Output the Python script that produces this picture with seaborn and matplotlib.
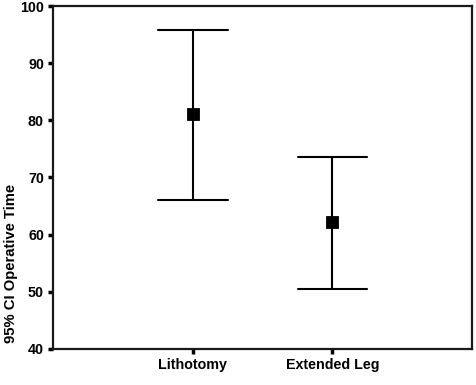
import pandas as pd
import seaborn as sns
import matplotlib.pyplot as plt

# values: 95% CI of operative time per position
groups = ['Lithotomy', 'Extended Leg']
means = [81.2, 62.2]
lower = [66.1, 50.5]
upper = [95.9, 73.5]

rows = []
for g, lo, m, hi in zip(groups, lower, means, upper):
    for v in (lo, m, hi):
        rows.append({'group': g, 'time': v})
df = pd.DataFrame(rows)

sns.set_style('ticks')
plt.rcParams['font.family'] = ['Liberation Sans', 'DejaVu Sans']
plt.rcParams['font.weight'] = 'bold'
plt.rcParams['text.color'] = 'black'
plt.rcParams['axes.labelcolor'] = 'black'
plt.rcParams['xtick.color'] = 'black'
plt.rcParams['ytick.color'] = 'black'

fig, ax = plt.subplots(figsize=(4.77, 3.85), dpi=100)
# median of (lo, mean, hi) is the mean, full range gives the CI ends
sns.pointplot(data=df, x='group', y='time', order=groups,
              estimator='median', errorbar=('pi', 100),
              linestyle='none', color='black', marker='s',
              markersize=6.5, capsize=0.5, err_kws={'linewidth': 1.5}, ax=ax)

ax.set_xlim(-1, 2)
ax.set_ylim(40, 100)
ax.set_yticks([40, 50, 60, 70, 80, 90, 100])
ax.set_xlabel('')
ax.set_ylabel('95% CI Operative Time', fontsize=10.7, fontweight='bold',
              va='center')
ax.yaxis.set_label_coords(-0.1, 0.25)
ax.tick_params(axis='both', direction='out', length=3.5, width=2.5,
               labelsize=10.3, pad=3)
for lab in ax.get_xticklabels() + ax.get_yticklabels():
    lab.set_fontweight('bold')
for s in ax.spines.values():
    s.set_visible(True)
    s.set_linewidth(1.6)
    s.set_color('#1a1a1a')

fig.subplots_adjust(left=0.111, right=0.99, top=0.984, bottom=0.094)
fig.savefig('out.png', dpi=100)
